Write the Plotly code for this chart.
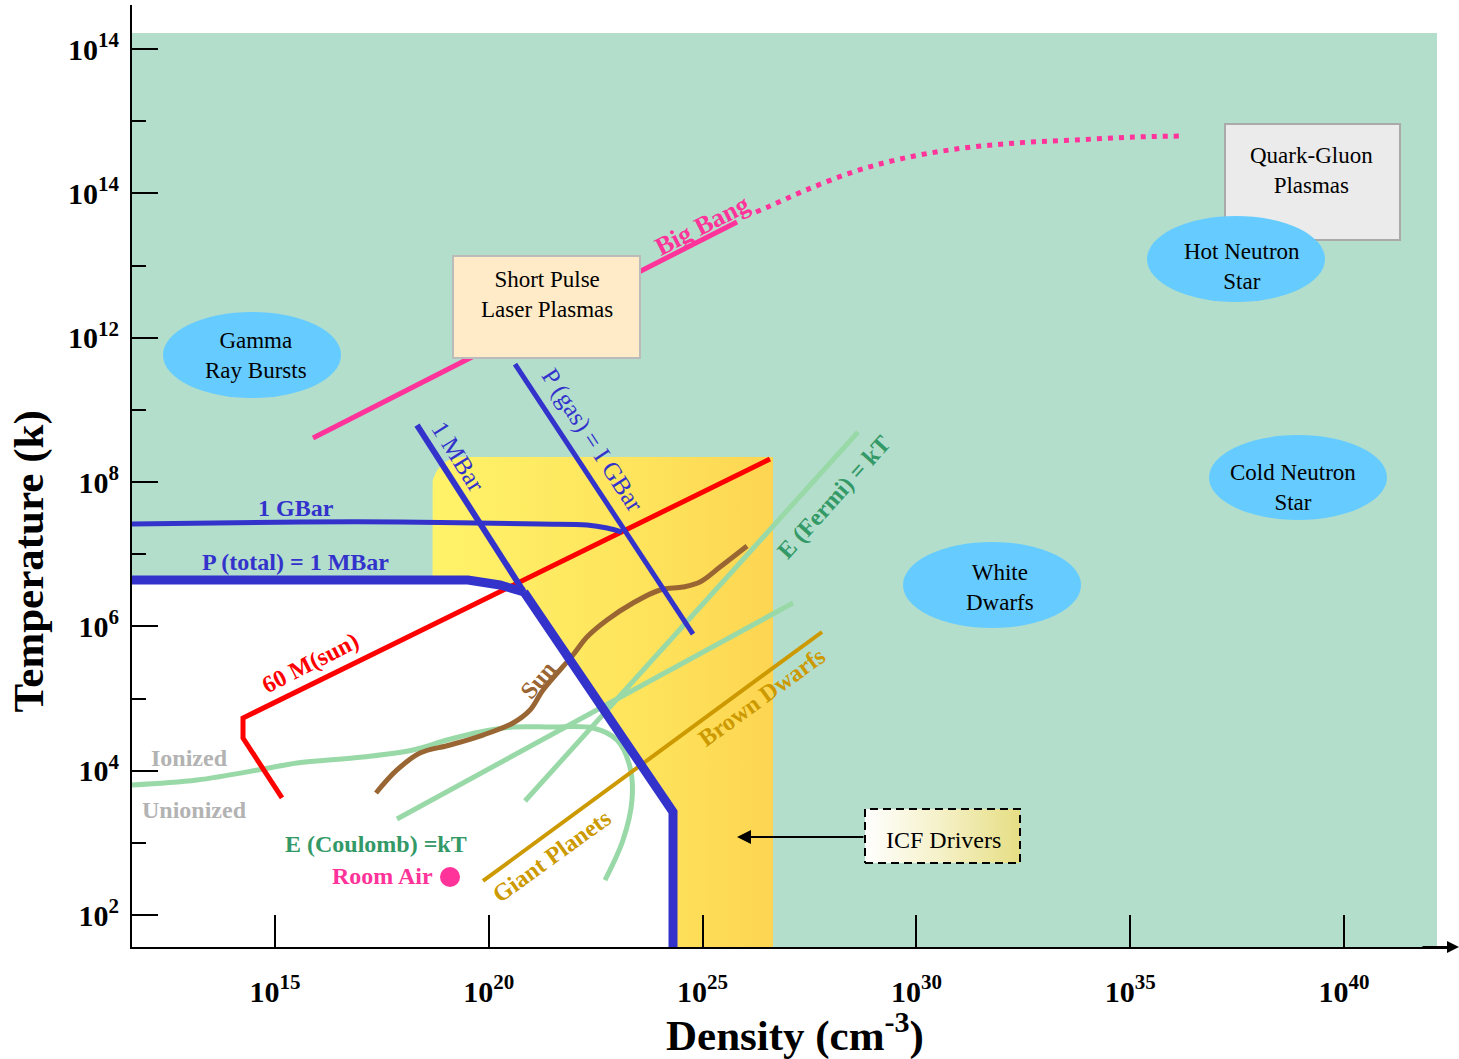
import numpy as np
import plotly.graph_objects as go

# Axes are in decades: x = log10(density / cm^-3), y = log10(temperature / K)
x_range = [11.656, 42.596]
y_range = [1.557, 14.61]

x_tickvals = [15, 20, 25, 30, 35, 40]
x_ticktext = ["10<sup>15</sup>", "10<sup>20</sup>", "10<sup>25</sup>",
              "10<sup>30</sup>", "10<sup>35</sup>", "10<sup>40</sup>"]
y_tickvals = [2, 4, 6, 8, 10, 12, 14]
y_ticktext = ["10<sup>2</sup>", "10<sup>4</sup>", "10<sup>6</sup>", "10<sup>8</sup>",
              "10<sup>12</sup>", "10<sup>14</sup>", "10<sup>14</sup>"]
y_minor = [3, 5, 7, 9, 11, 13]

# Plasma region (background) and the ICF region
plasma_x = [11.656, 42.175]
plasma_y = [1.557, 14.222]
icf_x = [18.672, 26.647]
icf_y = [1.557, 8.347]

# Non-plasma (unionized, low pressure) corner
nonplasma_x = [11.656, 19.514, 20.262, 20.823, 24.308, 24.308, 11.656]
nonplasma_y = [6.642, 6.642, 6.573, 6.476, 3.428, 1.557, 1.557]

# Pressure contours
gbar_x = [11.656, 15.585, 17.924, 21.198, 22.297, 22.765, 23.115]
gbar_y = [7.418, 7.446, 7.446, 7.418, 7.404, 7.363, 7.307]
ptotal_x = [11.656, 19.514, 20.262, 20.823]
ptotal_y = [6.642, 6.642, 6.573, 6.476]
mbar_upper_x = [18.321, 20.823]
mbar_upper_y = [8.790, 6.476]
mbar_lower_x = [20.823, 24.308, 24.308]
mbar_lower_y = [6.476, 3.428, 1.557]
pgas_x = [20.613, 24.776]
pgas_y = [9.635, 5.894]

# Stellar tracks
msun60_x = [15.164, 14.252, 14.252, 26.576]
msun60_y = [3.622, 4.453, 4.730, 8.319]
sun_x = [17.362, 17.853, 18.391, 19.093, 19.865, 20.566, 20.964, 21.268, 21.969,
         22.297, 22.765, 23.373, 24.004, 24.542, 24.939, 25.407, 26.039]
sun_y = [3.691, 4.010, 4.245, 4.356, 4.494, 4.661, 4.841, 5.118, 5.603,
         5.852, 6.088, 6.323, 6.504, 6.545, 6.615, 6.822, 7.113]
dwarfs_x = [19.865, 27.793]
dwarfs_y = [2.472, 5.922]

# Coulomb / Fermi energy lines
ionized_x = [11.656, 13.176, 14.720, 15.515, 17.058, 18.228, 19.023, 19.794, 20.566,
             21.432, 22.437, 22.998, 23.302, 23.349, 23.139, 22.718]
ionized_y = [3.802, 3.871, 4.023, 4.107, 4.190, 4.287, 4.425, 4.536, 4.605,
             4.605, 4.592, 4.425, 4.051, 3.594, 3.040, 2.485]
coulomb_x = [17.853, 27.114]
coulomb_y = [3.331, 6.323]
fermi_x = [20.847, 28.635]
fermi_y = [3.580, 8.693]

# Big Bang cooling curve
bigbang_x = [15.889, 25.805]
bigbang_y = [8.610, 11.603]
early_x = [26.249, 26.576, 27.419, 28.518, 29.617, 30.926, 32.306, 33.686, 35.089, 36.165]
early_y = [11.741, 11.824, 12.046, 12.296, 12.476, 12.614, 12.697, 12.739, 12.781, 12.794]

room_air_x = [19.093]
room_air_y = [2.527]

# Labelled blobs: (x0, x1), (y0, y1), label centre
ellipses = {
    "Gamma<br>Ray Bursts": ([12.381, 16.544], [9.164, 10.356], [14.556, 9.760]),
    "Hot Neutron<br>Star": ([35.393, 39.556], [10.494, 11.686], [37.615, 10.993]),
    "Cold Neutron<br>Star": ([36.843, 41.006], [7.474, 8.651], [38.808, 7.931]),
    "White<br>Dwarfs": ([29.687, 33.850], [5.977, 7.169], [31.955, 6.545]),
}
laser_box = ([19.163, 23.536], [9.718, 11.132], [21.361, 10.605])
quark_box = ([37.217, 41.310], [11.353, 12.961], [39.229, 12.323])
icf_label_box = ([28.798, 32.423], [2.721, 3.469], [30.623, 3.040])
icf_arrow_tip = [25.805, 3.081]

SERIF = "Liberation Serif"
BLUE = "#3333CC"
GREEN_LINE = "#99D9A8"
GREEN_TEXT = "#339966"
PINK = "#FF3399"
RED = "#FF0000"
BROWN = "#996633"
GOLD = "#CC9900"
SKY = "#66CCFF"

fig = go.Figure()

# ICF region with rounded top-left corner
rx, ry = 0.70, 0.42
t = np.linspace(np.pi, np.pi / 2, 16)
cx, cy = icf_x[0] + rx, icf_y[1] - ry
poly_x = [icf_x[0]] + list(cx + rx * np.cos(t)) + [icf_x[1], icf_x[1], icf_x[0]]
poly_y = [icf_y[0]] + list(cy + ry * np.sin(t)) + [icf_y[1], icf_y[0], icf_y[0]]
fig.add_trace(go.Scatter(
    x=poly_x, y=poly_y, mode="lines", fill="toself", line=dict(width=0),
    fillgradient=dict(type="horizontal",
                      colorscale=[[0, "#FFF36A"], [0.6, "#FEE45C"], [1, "#FDD552"]]),
    hoverinfo="skip"))

fig.add_trace(go.Scatter(x=nonplasma_x, y=nonplasma_y, mode="lines", fill="toself",
                         fillcolor="white", line=dict(width=0), hoverinfo="skip"))

# ICF Drivers label box
bx, by, _ = icf_label_box
fig.add_trace(go.Scatter(
    x=[bx[0], bx[1], bx[1], bx[0], bx[0]], y=[by[0], by[0], by[1], by[1], by[0]],
    mode="lines", fill="toself", line=dict(color="black", width=2, dash="8px,5px"),
    fillgradient=dict(type="horizontal",
                      colorscale=[[0, "#FFFFFF"], [0.45, "#F6F2CC"], [1, "#E6DE84"]]),
    hoverinfo="skip"))


def line(x, y, color, width, shape="linear", dash="solid"):
    fig.add_trace(go.Scatter(x=x, y=y, mode="lines", hoverinfo="skip",
                             line=dict(color=color, width=width, shape=shape, dash=dash)))


line(ionized_x, ionized_y, GREEN_LINE, 5, "spline")
line(coulomb_x, coulomb_y, GREEN_LINE, 5)
line(fermi_x, fermi_y, GREEN_LINE, 5)
line(dwarfs_x, dwarfs_y, GOLD, 4)
line(sun_x, sun_y, BROWN, 5, "spline")
line(msun60_x, msun60_y, RED, 5)
line(gbar_x, gbar_y, BLUE, 5, "spline")
line(pgas_x, pgas_y, BLUE, 5)
line(mbar_upper_x, mbar_upper_y, BLUE, 6)
line(ptotal_x, ptotal_y, BLUE, 9)
line(mbar_lower_x, mbar_lower_y, BLUE, 9)
line(bigbang_x, bigbang_y, PINK, 5)
line(early_x, early_y, PINK, 5, "spline", "5px,6px")

fig.add_trace(go.Scatter(x=room_air_x, y=room_air_y, mode="markers", hoverinfo="skip",
                         marker=dict(color=PINK, size=20, line=dict(width=0))))

shapes = [
    dict(type="rect", layer="below", xref="x", yref="y",
         x0=plasma_x[0], x1=plasma_x[1], y0=plasma_y[0], y1=plasma_y[1],
         fillcolor="#B3DECC", line=dict(width=0)),
    dict(type="rect", layer="above", xref="x", yref="y",
         x0=laser_box[0][0], x1=laser_box[0][1], y0=laser_box[1][0], y1=laser_box[1][1],
         fillcolor="#FFEBC8", line=dict(color="#BBBBBB", width=2)),
    dict(type="rect", layer="above", xref="x", yref="y",
         x0=quark_box[0][0], x1=quark_box[0][1], y0=quark_box[1][0], y1=quark_box[1][1],
         fillcolor="#EBEBEB", line=dict(color="#AAAAAA", width=2)),
]
for ex, ey, _ in ellipses.values():
    shapes.append(dict(type="circle", layer="above", xref="x", yref="y",
                       x0=ex[0], x1=ex[1], y0=ey[0], y1=ey[1],
                       fillcolor=SKY, line=dict(width=0)))

annotations = []


def label(text, x, y, color="black", size=24, bold=False, angle=0):
    if bold:
        text = "<b>" + text + "</b>"
    annotations.append(dict(text=text, x=x, y=y, xref="x", yref="y", showarrow=False,
                            textangle=angle, font=dict(family=SERIF, size=size, color=color),
                            xanchor="center", yanchor="middle"))


for name, (_, _, c) in ellipses.items():
    label(name, c[0], c[1], size=23)
label("Short Pulse<br>Laser Plasmas", laser_box[2][0], laser_box[2][1], size=23)
label("Quark-Gluon<br>Plasmas", quark_box[2][0], quark_box[2][1], size=23)
label("ICF Drivers", icf_label_box[2][0], icf_label_box[2][1])

label("Big Bang", 24.986, 11.561, PINK, 26, True, -27)
label("1 GBar", 15.491, 7.640, BLUE, 24, True)
label("P (total) = 1 MBar", 15.468, 6.892, BLUE, 24, True)
label("1 MBar", 19.280, 8.347, BLUE, 25, False, 58)
label("P (gas) = I GBar", 22.414, 8.582, BLUE, 25, False, 57)
label("60 M(sun)", 15.819, 5.492, RED, 24, True, -27)
label("Sun", 21.151, 5.257, BROWN, 24, True, -50)
label("E (Fermi) = kT", 28.073, 7.792, GREEN_TEXT, 24, True, -48)
label("Brown Dwarfs", 26.389, 5.021, GOLD, 24, True, -36)
label("Giant Planets", 21.478, 2.818, GOLD, 24, True, -36)
label("Ionized", 12.989, 4.176, "#B3B3B3", 24, True)
label("Unionized", 13.129, 3.455, "#B3B3B3", 24, True)
label("E (Coulomb) =kT", 17.362, 2.984, GREEN_TEXT, 24, True)
label("Room Air", 17.503, 2.541, PINK, 24, True)

# arrow from the ICF Drivers box into the ICF region
annotations.append(dict(x=icf_arrow_tip[0], y=icf_arrow_tip[1], ax=icf_label_box[0][0],
                        ay=icf_arrow_tip[1], xref="x", yref="y", axref="x", ayref="y",
                        text="", showarrow=True, arrowhead=2, arrowsize=1.4,
                        arrowwidth=2, arrowcolor="black"))
# arrowhead on the density axis
annotations.append(dict(x=42.69, y=y_range[0], ax=41.8, ay=y_range[0], xref="x", yref="y",
                        axref="x", ayref="y", text="", showarrow=True, arrowhead=2,
                        arrowsize=1.2, arrowwidth=2, arrowcolor="black"))

# axis titles
annotations.append(dict(text="<b>Temperature (k)</b>", x=-0.0775, y=0.4098, xref="paper",
                        yref="paper", showarrow=False, textangle=-90,
                        font=dict(family=SERIF, size=43, color="black"),
                        xanchor="center", yanchor="middle"))
annotations.append(dict(text="<b>Density (cm<sup>-3</sup>)</b>", x=0.501, y=-0.0905,
                        xref="paper", yref="paper", showarrow=False,
                        font=dict(family=SERIF, size=43, color="black"),
                        xanchor="center", yanchor="middle"))

fig.update_layout(
    width=1459, height=1059,
    margin=dict(l=132, r=4, t=5, b=112),
    plot_bgcolor="white", paper_bgcolor="white",
    showlegend=False,
    shapes=shapes, annotations=annotations,
    xaxis=dict(range=x_range, showgrid=False, zeroline=False, showline=True,
               linecolor="black", linewidth=2, ticks="inside", ticklen=32, tickwidth=2,
               tickcolor="black", tickvals=x_tickvals,
               ticktext=["<b>" + s + "</b>" for s in x_ticktext],
               tickfont=dict(family=SERIF, size=30, color="black"),
               ticklabelstandoff=17),
    yaxis=dict(range=y_range, showgrid=False, zeroline=False, showline=True,
               linecolor="black", linewidth=2, ticks="inside", ticklen=26, tickwidth=2,
               tickcolor="black", tickvals=y_tickvals,
               ticktext=["<b>" + s + "</b>" for s in y_ticktext],
               tickfont=dict(family=SERIF, size=30, color="black"),
               ticklabelstandoff=5,
               minor=dict(tickvals=y_minor, ticks="inside", ticklen=14, tickwidth=2,
                          tickcolor="black", showgrid=False)),
)

fig.write_html("out.html")
